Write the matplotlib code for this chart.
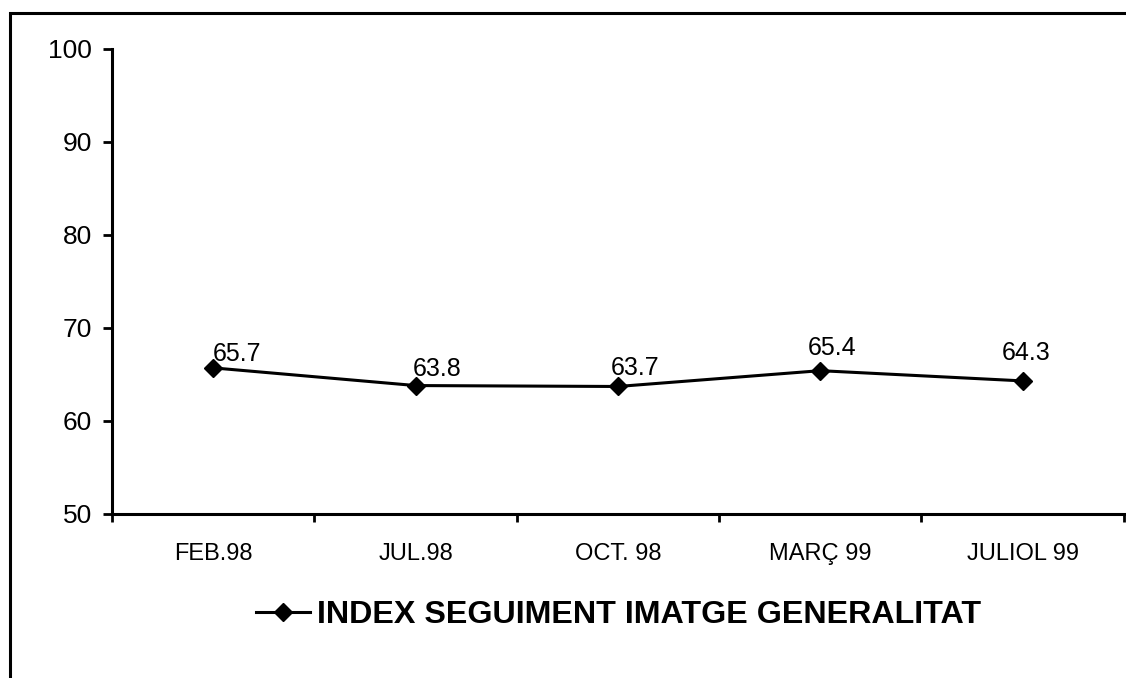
""" line chart: index seguiment imatge generalitat
"""
import matplotlib.pyplot as plt
from matplotlib.patches import Rectangle

plt.rcParams['font.family'] = ['Liberation Sans', 'DejaVu Sans']

categories = ['FEB.98', 'JUL.98', 'OCT. 98', 'MARÇ 99', 'JULIOL 99']
values = [65.7, 63.8, 63.7, 65.4, 64.3]
serie_name = 'INDEX SEGUIMENT IMATGE GENERALITAT'

# petits décalages des étiquettes (pixels)
label_dx = [24, 22, 17, 12, 4]
label_dy = [7, 10, 11, 16, 21]

fig = plt.figure(figsize=(11.26, 6.78), dpi=100)
ax = fig.add_axes([0.0995, 0.242, 0.8985, 0.686])

x = list(range(len(categories)))
ax.plot(x, values, color='black', lw=2.2, marker='D', markersize=9,
        label=serie_name)

for xi, v, dx, dy in zip(x, values, label_dx, label_dy):
    ax.annotate(f'{v:.1f}', xy=(xi, v), xytext=(dx, dy),
                textcoords='offset pixels', ha='center', va='baseline',
                fontsize=18)

ax.set_xlim(-0.5, len(categories) - 0.5)
ax.set_ylim(50, 100)
ax.set_yticks(range(50, 101, 10))

# ticks aux limites des catégories, étiquettes au centre
ax.set_xticks([i - 0.5 for i in range(len(categories) + 1)])
ax.set_xticklabels([])
ax.set_xticks(x, minor=True)
ax.set_xticklabels(categories, minor=True)
ax.tick_params(axis='x', which='major', length=6, width=2, direction='out')
ax.tick_params(axis='x', which='minor', length=0, pad=21, labelsize=17)
ax.tick_params(axis='y', length=6.5, width=2, pad=8, labelsize=19)

for s in ['top', 'right']:
    ax.spines[s].set_visible(False)
for s in ['left', 'bottom']:
    ax.spines[s].set_linewidth(2.2)

ax.legend(loc='center', bbox_to_anchor=(0.549, 0.093),
          bbox_transform=fig.transFigure, frameon=False,
          handlelength=1.7, handletextpad=0.2,
          prop=dict(weight='bold', size=23.2))

# cadre autour du graphique
fig.patches.append(Rectangle((10 / 1126, -0.1), 1.2, 0.1 + 1 - 13 / 678,
                             transform=fig.transFigure, fill=False,
                             ec='black', lw=2.2, clip_on=False))

fig.savefig('out.png', dpi=100)
